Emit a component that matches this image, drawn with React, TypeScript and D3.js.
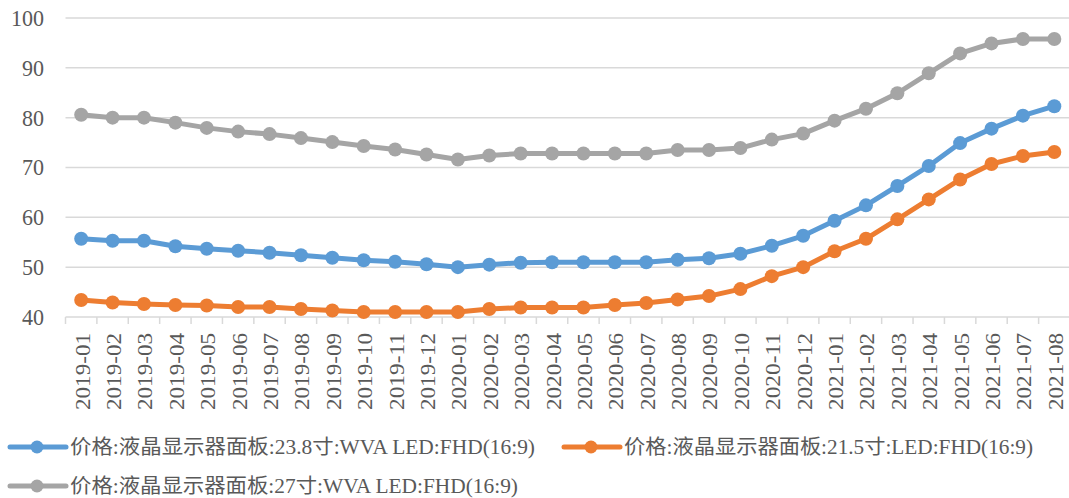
import React, { useRef, useEffect } from "react";
import * as d3 from "d3";

const months = [
  "2019-01", "2019-02", "2019-03", "2019-04", "2019-05", "2019-06", "2019-07", "2019-08",
  "2019-09", "2019-10", "2019-11", "2019-12", "2020-01", "2020-02", "2020-03", "2020-04",
  "2020-05", "2020-06", "2020-07", "2020-08", "2020-09", "2020-10", "2020-11", "2020-12",
  "2021-01", "2021-02", "2021-03", "2021-04", "2021-05", "2021-06", "2021-07", "2021-08",
];

const panel238 = [
  55.7, 55.3, 55.3, 54.2, 53.7, 53.3, 52.9, 52.4, 51.9, 51.4, 51.1, 50.6, 50.0, 50.5, 50.9, 51.0,
  51.0, 51.0, 51.0, 51.5, 51.8, 52.7, 54.3, 56.3, 59.3, 62.4, 66.3, 70.3, 74.9, 77.8, 80.4, 82.3,
];

const panel215 = [
  43.4, 42.9, 42.6, 42.4, 42.3, 42.0, 42.0, 41.6, 41.3, 41.0, 41.0, 41.0, 41.0, 41.6, 41.9, 41.9,
  41.9, 42.4, 42.8, 43.5, 44.2, 45.6, 48.2, 50.0, 53.2, 55.7, 59.6, 63.6, 67.6, 70.7, 72.3, 73.1,
];

const panel27 = [
  80.6, 80.0, 80.0, 79.0, 77.95, 77.2, 76.7, 75.9, 75.1, 74.3, 73.6, 72.6, 71.6, 72.4, 72.8, 72.8,
  72.8, 72.8, 72.8, 73.5, 73.5, 73.9, 75.6, 76.8, 79.4, 81.8, 84.9, 88.9, 92.9, 94.9, 95.8, 95.8,
];

const yTicks = [40, 50, 60, 70, 80, 90, 100];

const series = [
  { name: "价格:液晶显示器面板:23.8寸:WVA LED:FHD(16:9)", values: panel238, color: "#5B9BD5" },
  { name: "价格:液晶显示器面板:21.5寸:LED:FHD(16:9)", values: panel215, color: "#ED7D31" },
  { name: "价格:液晶显示器面板:27寸:WVA LED:FHD(16:9)", values: panel27, color: "#A5A5A5" },
];

const App = () => {
  const ref = useRef<SVGSVGElement>(null);
  const width = 1069;
  const height = 498;
  const serif = "Liberation Serif, DejaVu Serif, serif";
  const legendFont = "Liberation Serif, Noto Sans CJK SC, serif";
  const grey = "#595959";

  useEffect(() => {
    const svg = d3.select(ref.current);
    svg.selectAll("*").remove();

    const x = d3.scaleBand().domain(months).range([65.5, 1070]);
    const y = d3.scaleLinear().domain([40, 100]).range([317, 18]);
    const cx = (i: number) => (x(months[i]) as number) + x.bandwidth() / 2;

    // gridlines
    svg
      .append("g")
      .selectAll("line")
      .data(yTicks)
      .enter()
      .append("line")
      .attr("x1", 65.5)
      .attr("x2", width)
      .attr("y1", (d) => y(d))
      .attr("y2", (d) => y(d))
      .attr("stroke", "#d9d9d9")
      .attr("stroke-width", 1.5);

    // y labels
    svg
      .append("g")
      .selectAll("text")
      .data(yTicks)
      .enter()
      .append("text")
      .attr("x", 44)
      .attr("y", (d) => y(d))
      .attr("dy", "0.33em")
      .attr("text-anchor", "end")
      .attr("textLength", (d) => String(d).length * 11)
      .attr("lengthAdjust", "spacingAndGlyphs")
      .attr("font-family", serif)
      .attr("font-size", 24)
      .attr("fill", grey)
      .text((d) => d);

    // x ticks at band edges
    const edges = months.map((m) => x(m) as number).concat([x.range()[1]]);
    svg
      .append("g")
      .selectAll("line")
      .data(edges)
      .enter()
      .append("line")
      .attr("x1", (d) => d)
      .attr("x2", (d) => d)
      .attr("y1", y(40))
      .attr("y2", y(40) + 7)
      .attr("stroke", "#d9d9d9")
      .attr("stroke-width", 1.5);

    // x labels, rotated
    svg
      .append("g")
      .selectAll("text")
      .data(months)
      .enter()
      .append("text")
      .attr("transform", (d, i) => `translate(${cx(i) + 1}, 333) rotate(-90)`)
      .attr("dy", "0.34em")
      .attr("text-anchor", "end")
      .attr("textLength", 77)
      .attr("lengthAdjust", "spacingAndGlyphs")
      .attr("font-family", serif)
      .attr("font-size", 22)
      .attr("fill", grey)
      .text((d) => d);

    const line = d3
      .line<number>()
      .x((d, i) => cx(i))
      .y((d) => y(d));

    series.forEach((s) => {
      const g = svg.append("g");
      g.append("path")
        .attr("d", line(s.values))
        .attr("fill", "none")
        .attr("stroke", s.color)
        .attr("stroke-width", 5)
        .attr("stroke-linejoin", "round");
      g.selectAll("circle")
        .data(s.values)
        .enter()
        .append("circle")
        .attr("cx", (d, i) => cx(i))
        .attr("cy", (d) => y(d))
        .attr("r", 7)
        .attr("fill", s.color);
    });

    // legend
    const legendPos = [
      { x: 10, y: 447, w: 465 },
      { x: 564, y: 447, w: 409 },
      { x: 10, y: 486, w: 448 },
    ];
    series.forEach((s, i) => {
      const p = legendPos[i];
      const g = svg.append("g").attr("transform", `translate(${p.x}, ${p.y})`);
      g.append("line")
        .attr("x1", 0)
        .attr("x2", 56)
        .attr("stroke", s.color)
        .attr("stroke-width", 5)
        .attr("stroke-linecap", "round");
      g.append("circle").attr("cx", 27).attr("r", 6.5).attr("fill", s.color);
      g.append("text")
        .attr("x", 60)
        .attr("dy", "0.33em")
        .attr("textLength", p.w)
        .attr("lengthAdjust", "spacingAndGlyphs")
        .attr("font-family", legendFont)
        .attr("font-size", 20)
        .attr("fill", grey)
        .text(s.name);
    });
  }, []);

  return (
    <svg
      ref={ref}
      width={width}
      height={height}
      style={{ position: "absolute", left: 0, top: 0, background: "#fff" }}
    />
  );
};

export default App;
